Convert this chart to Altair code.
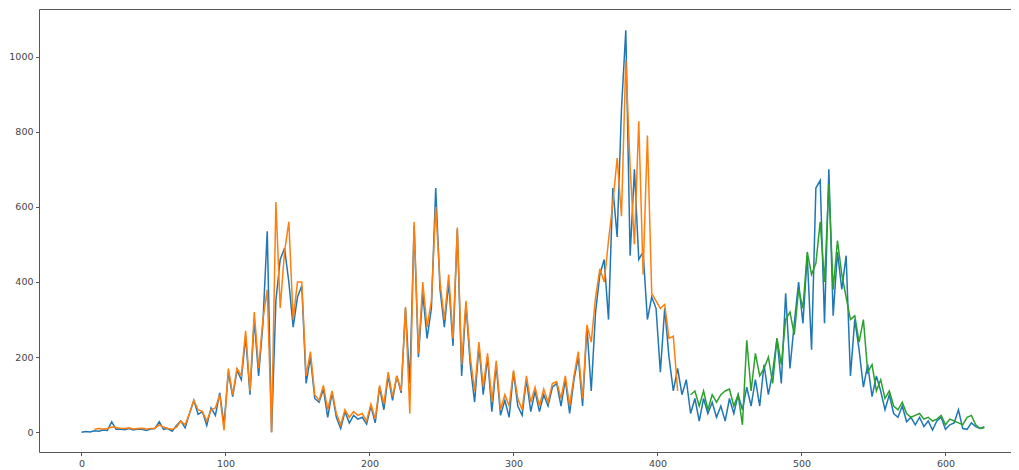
import altair as alt
import pandas as pd

STEP = 3

BLUE_START = 0
blue_vals = [
    0, 2, 1, 4, 3, 6, 5, 28, 8, 9,
    7, 10, 6, 9, 8, 5, 9, 10, 28, 8,
    10, 3, 18, 30, 12, 50, 85, 48, 55, 18,
    65, 45, 105, 20, 160, 95, 165, 140, 255, 100,
    300, 150, 290, 535, 0, 350, 460, 490, 400, 280,
    360, 390, 130, 200, 90, 80, 115, 40, 105, 40,
    10, 55, 25, 45, 35, 40, 22, 70, 25, 120,
    60, 150, 85, 150, 105, 330, 130, 550, 200, 370,
    250, 330, 650, 380, 280, 400, 230, 540, 150, 340,
    180, 80, 230, 100, 200, 55, 180, 45, 85, 40,
    160, 70, 45, 140, 55, 110, 55, 100, 70, 120,
    130, 70, 140, 50, 140, 200, 70, 280, 110, 320,
    420, 460, 300, 650, 520, 860, 1070, 470, 700, 460,
    480, 300, 360, 330, 160, 330, 200, 110, 170, 100,
    140, 50, 90, 30, 90, 50, 80, 40, 70, 30,
    90, 50, 100, 60, 120, 70, 140, 70, 180, 100,
    160, 250, 130, 370, 170, 290, 400, 290, 470, 220,
    650, 670, 290, 700, 310, 480, 380, 470, 150, 300,
    220, 120, 180, 95, 150, 110, 60, 100, 50, 40,
    70, 28, 40, 20, 40, 15, 30, 6, 30, 40,
    8, 20, 25, 60, 10, 8, 25, 15, 10, 15,
]

ORANGE_START = 9
orange_vals = [
    8, 10, 9, 10, 14, 13, 11, 10, 12, 9,
    10, 11, 9, 10, 11, 20, 14, 10, 8, 14,
    30, 20, 50, 85, 60, 55, 30, 60, 65, 100,
    5, 170, 100, 170, 150, 270, 110, 320, 170, 300,
    380, 0, 613, 330, 480, 560, 300, 400, 400, 150,
    215, 100, 85, 125, 60, 110, 50, 20, 60, 40,
    55, 45, 50, 30, 75, 35, 125, 75, 160, 95,
    150, 110, 334, 50, 560, 210, 400, 280, 350, 600,
    400, 300, 420, 250, 545, 180, 350, 200, 110, 240,
    120, 210, 80, 190, 60, 100, 70, 165, 90, 60,
    150, 80, 120, 70, 115, 80, 130, 135, 90, 150,
    70, 150, 215, 90, 286, 240, 360, 435, 400, 510,
    610, 730, 575, 990, 705, 500, 828, 420, 790, 370,
    350, 330, 340, 250, 256, 110,
]

GREEN_START = 423
green_vals = [
    100, 110, 70, 110, 60, 100, 80, 100, 110, 115,
    70, 100, 20, 245, 110, 210, 150, 170, 200, 130,
    250, 180, 300, 320, 260, 380, 330, 480, 420, 450,
    560, 400, 660, 380, 510, 420, 360, 300, 310, 240,
    300, 160, 180, 110, 140, 90, 110, 70, 60, 80,
    50, 40, 45, 50, 35, 40, 30, 35, 45, 20,
    35, 30, 25, 20, 40, 45, 20, 10, 12,
]

X_TICKS = [0, 100, 200, 300, 400, 500, 600]
Y_TICKS = [0, 200, 400, 600, 800, 1000]
COLORS = ["#1f77b4", "#ff7f0e", "#2ca02c"]


def frame(start, vals):
    return pd.DataFrame({"x": [start + STEP * i for i in range(len(vals))], "y": vals})


df_b = frame(BLUE_START, blue_vals)
df_o = frame(ORANGE_START, orange_vals)
df_g = frame(GREEN_START, green_vals)

xs = alt.Scale(domain=[-29.5, 645.5], nice=False, zero=False)
ys = alt.Scale(domain=[-52.4, 1126.5], nice=False, zero=False)

AX = dict(grid=False, title=None, tickSize=3.5, labelPadding=2.5, labelFontSize=9.5,
          labelFont="DejaVu Sans", labelColor="#444", tickColor="#555",
          domainColor="#555", domainWidth=1, format="d")

bottom_axis = alt.Axis(values=X_TICKS, **AX)
left_axis = alt.Axis(values=Y_TICKS, **AX)
top_axis = alt.Axis(orient="top", labels=False, ticks=False, grid=False, title=None,
                    domainColor="#555", domainWidth=1)

blue = alt.Chart(df_b).mark_line(color=COLORS[0], strokeWidth=1.5).encode(
    x=alt.X("x:Q", scale=xs, axis=bottom_axis),
    y=alt.Y("y:Q", scale=ys, axis=left_axis),
)
orange = alt.Chart(df_o).mark_line(color=COLORS[1], strokeWidth=1.5).encode(
    x=alt.X("x:Q", scale=xs, axis=None),
    y=alt.Y("y:Q", scale=ys, axis=left_axis),
)
green = alt.Chart(df_g).mark_line(color=COLORS[2], strokeWidth=1.5).encode(
    x=alt.X("x:Q", scale=xs, axis=top_axis),
    y=alt.Y("y:Q", scale=ys, axis=left_axis),
)

chart = (
    alt.layer(blue, orange, green)
    .resolve_axis(x="independent")
    .properties(
        width=972,
        height=443,
        autosize=alt.AutoSizeParams(type="none"),
        padding={"left": 31, "top": 1, "right": 0, "bottom": 16},
    )
    .configure_view(stroke=None)
)

chart.save("out.html", embed_options={"renderer": "svg", "actions": False})
